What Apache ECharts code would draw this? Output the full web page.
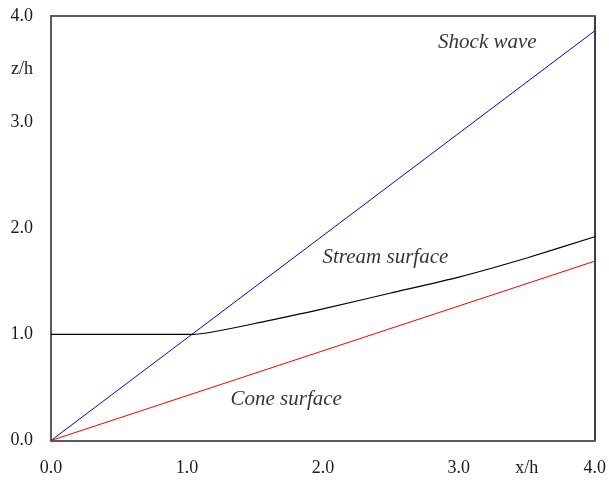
<!DOCTYPE html>
<html>
<head>
<meta charset="utf-8">
<script src="https://cdn.jsdelivr.net/npm/echarts@6/dist/echarts.min.js"></script>
<style>
  html, body { margin: 0; padding: 0; background: #fff; }
  #chart { width: 609px; height: 484px; }
</style>
</head>
<body>
<div id="chart"></div>
<script>
// Shock wave, stream surface and cone surface, z/h against x/h
const shockX = [0.0, 4.0];
const shockZ = [0.0, 3.86];

const streamX = [0.0, 1.04, 1.6, 2.0, 2.5, 3.0, 3.5, 4.0];
const streamZ = [1.0, 1.0, 1.13, 1.24, 1.39, 1.54, 1.72, 1.92];

const coneX = [0.0, 4.0];
const coneZ = [0.0, 1.69];

const curveNames = ['Shock wave', 'Stream surface', 'Cone surface'];
const labelX = [3.21, 2.46, 1.73];
const labelZ = [3.75, 1.72, 0.39];

const axisMin = 0, axisMax = 4, axisStep = 0.5;
const xTitle = 'x/h', zTitle = 'z/h', titleAt = 3.5;

const pairs = (xs, ys) => xs.map((x, i) => [x, ys[i]]);
const serif = '"Liberation Serif", "Times New Roman", serif';

function tickText(title) {
  return v => {
    if (Math.abs(v - titleAt) < 1e-9) return title;
    return Math.abs(v - Math.round(v)) < 1e-9 ? v.toFixed(1) : '';
  };
}

const frameAxis = (position, color, width) => ({
  type: 'value', position, min: axisMin, max: axisMax,
  axisLine: { show: true, onZero: false, lineStyle: { color, width } },
  axisTick: { show: false }, axisLabel: { show: false }, splitLine: { show: false }
});

const chart = echarts.init(document.getElementById('chart'));
chart.setOption({
  animation: false,
  backgroundColor: '#fff',
  grid: { left: 51, right: 13, top: 16, bottom: 43.5 },
  xAxis: [
    {
      type: 'value', min: axisMin, max: axisMax, interval: axisStep,
      axisLine: { show: true, onZero: false, lineStyle: { color: '#5a5a5a', width: 2 } },
      axisTick: { show: false },
      splitLine: { show: false },
      axisLabel: {
        margin: 19, color: '#1a1a1a', fontFamily: serif, fontSize: 18,
        formatter: tickText(xTitle), showMinLabel: true, showMaxLabel: true
      }
    },
    frameAxis('top', '#5a5a5a', 2)
  ],
  yAxis: [
    {
      type: 'value', min: axisMin, max: axisMax, interval: axisStep,
      axisLine: { show: true, onZero: false, lineStyle: { color: '#5a5a5a', width: 2 } },
      axisTick: { show: false },
      splitLine: { show: false },
      axisLabel: {
        margin: 18, color: '#1a1a1a', fontFamily: serif, fontSize: 18,
        formatter: tickText(zTitle), showMinLabel: true, showMaxLabel: true
      }
    },
    frameAxis('right', '#000', 1.5)
  ],
  series: [
    {
      name: curveNames[0], type: 'line', data: pairs(shockX, shockZ),
      symbol: 'none', lineStyle: { color: '#0000ff', width: 1 }
    },
    {
      name: curveNames[1], type: 'line', data: pairs(streamX, streamZ),
      symbol: 'none', smooth: 0.2, lineStyle: { color: '#000', width: 1.2 }
    },
    {
      name: curveNames[2], type: 'line', data: pairs(coneX, coneZ),
      symbol: 'none', lineStyle: { color: '#ff0000', width: 1 }
    },
    {
      type: 'scatter', symbolSize: 0, silent: true,
      data: labelX.map((x, i) => ({ value: [x, labelZ[i]], name: curveNames[i] })),
      label: {
        show: true, position: 'inside', formatter: p => p.name,
        fontFamily: serif, fontStyle: 'italic', fontSize: 21, color: '#000',
        textBorderWidth: 0
      }
    }
  ]
});
</script>
</body>
</html>
